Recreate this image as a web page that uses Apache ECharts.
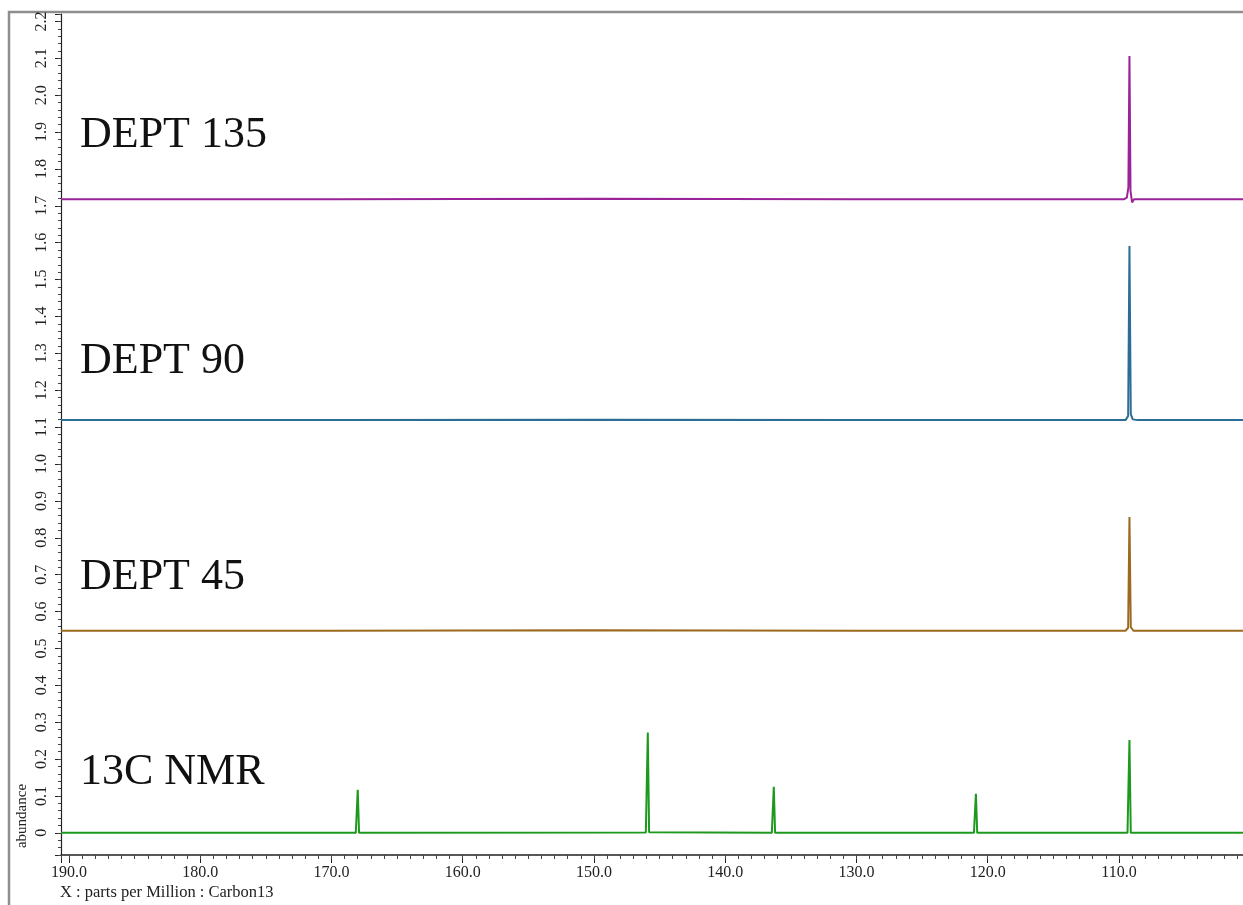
<!DOCTYPE html>
<html>
<head>
<meta charset="utf-8">
<script src="https://cdn.jsdelivr.net/npm/echarts@6/dist/echarts.min.js"></script>
<style>
html,body{margin:0;padding:0;background:#fff;overflow:hidden;}
#chart{width:1243px;height:905px;}
</style>
</head>
<body>
<div id="chart"></div>
<script>
// ---- data (ppm, abundance) ----
const dept135 = [[190.61,1.718],[170,1.718],[150,1.719],[130,1.718],[109.6,1.718],[109.4,1.722],[109.28,1.75],[109.2,2.106],[109.12,1.74],[109.0,1.709],[108.85,1.718],[100,1.718]];
const dept90 = [[190.61,1.119],[170,1.119],[150,1.120],[130,1.119],[109.5,1.119],[109.3,1.13],[109.2,1.591],[109.1,1.135],[108.95,1.121],[108.6,1.119],[100,1.119]];
const dept45 = [[190.61,0.548],[170,0.548],[150,0.549],[130,0.548],[109.5,0.548],[109.3,0.556],[109.2,0.856],[109.1,0.558],[108.9,0.548],[100,0.548]];
const c13 = [[190.61,0.0],[182.9,0.0],[182.8,-0.003],[182.7,0.0],[168.15,0.0],[168.0,0.117],[167.9,0.0],[146.05,0.001],[145.9,0.272],[145.8,0.002],[136.45,0.0],[136.3,0.125],[136.2,0.0],[121.05,0.0],[120.9,0.106],[120.8,0.0],[109.35,0.0],[109.2,0.252],[109.1,0.0],[100,0.0]];

const seriesNames = ['DEPT 135','DEPT 90','DEPT 45','13C NMR'];
const seriesData = [dept135, dept90, dept45, c13];
const seriesColors = ['#9a239a','#2b6d95','#9b6a1f','#1d9a1d'];
const xName = 'X : parts per Million : Carbon13';
const yName = 'abundance';

const serif = '"Liberation Serif", "DejaVu Serif", serif';
const chart = echarts.init(document.getElementById('chart'), null, {renderer:'canvas'});

const yLabelFmt = v => {
  const r = Math.round(v*10)/10;
  if (Math.abs(v - r) > 1e-6) return '';
  return r === 0 ? '0' : r.toFixed(1);
};
const xLabelFmt = v => {
  const r = Math.round(v/10)*10;
  if (Math.abs(v - r) > 1e-6 || r <= 100) return '';
  return r.toFixed(1);
};

const labelY = [135, 361, 577, 772];

chart.setOption({
  animation: false,
  backgroundColor: '#ffffff',
  grid: {left: 61, top: 14, width: 1189.2, bottom: 50, containLabel: false, outerBoundsMode: 'none'},
  xAxis: [
    {type:'value', position:'bottom', inverse:true, min:100, max:190.61, interval:10,
     axisLine:{show:true, onZero:false, lineStyle:{color:'#222', width:1.5}},
     axisTick:{show:true, inside:false, length:8, lineStyle:{color:'#222', width:1}},
     axisLabel:{formatter:xLabelFmt, fontFamily:serif, fontSize:16, color:'#222', margin:10},
     splitLine:{show:false}},
    {type:'value', position:'bottom', inverse:true, min:100, max:190.61, interval:1,
     axisLine:{show:false, onZero:false},
     axisTick:{show:true, inside:false, length:4, lineStyle:{color:'#444', width:1}},
     axisLabel:{show:false}, splitLine:{show:false}}
  ],
  yAxis: [
    {type:'value', position:'left', min:-0.06, max:2.22, splitNumber:23,
     axisLine:{show:true, onZero:false, lineStyle:{color:'#222', width:1.2}},
     axisTick:{show:true, inside:false, length:6, lineStyle:{color:'#222', width:1}},
     axisLabel:{formatter:yLabelFmt, rotate:90, fontFamily:serif, fontSize:16, color:'#222', margin:11},
     splitLine:{show:false}},
    {type:'value', position:'left', min:-0.06, max:2.22, interval:0.02,
     axisLine:{show:false, onZero:false},
     axisTick:{show:true, inside:false, length:3, lineStyle:{color:'#444', width:1}},
     axisLabel:{show:false}, splitLine:{show:false}}
  ],
  series: seriesData.map((d,i)=>({
    type:'line', name:seriesNames[i], data:d, xAxisIndex:0, yAxisIndex:0,
    showSymbol:false, symbol:'none', smooth:false,
    lineStyle:{color:seriesColors[i], width:2}, clip:true
  })),
  graphic: [
    {type:'rect', z:-10, silent:true, shape:{x:9, y:12, width:1400, height:1000},
     style:{fill:'none', stroke:'#8e8e8e', lineWidth:2.5}},
    ...seriesNames.map((n,i)=>({type:'text', x:80, y:labelY[i], silent:true,
     style:{text:n, font:'44px '+serif, fill:'#111', verticalAlign:'middle', textVerticalAlign:'middle'}})),
    {type:'text', x:60, y:893, silent:true,
     style:{text:xName, font:'16.5px '+serif, fill:'#222', verticalAlign:'middle', textVerticalAlign:'middle'}},
    {type:'text', x:22, y:816, rotation:Math.PI/2, silent:true,
     style:{text:yName, font:'15px '+serif, fill:'#222', align:'center', textAlign:'center', verticalAlign:'middle', textVerticalAlign:'middle'}}
  ]
});
</script>
</body>
</html>
